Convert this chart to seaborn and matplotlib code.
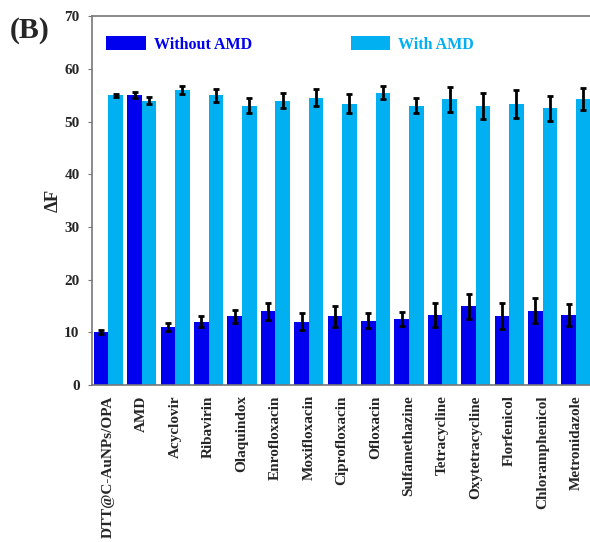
import matplotlib
matplotlib.use("Agg")
import matplotlib.pyplot as plt
import seaborn as sns
import pandas as pd

categories = ["DTT@C-AuNPs/OPA", "AMD", "Acyclovir", "Ribavirin", "Olaquindox",
              "Enrofloxacin", "Moxifloxacin", "Ciprofloxacin", "Ofloxacin",
              "Sulfamethazine", "Tetracycline", "Oxytetracycline", "Florfenicol",
              "Chloramphenicol", "Metronidazole"]
series_names = ["Without AMD", "With AMD"]
without_amd = [10.0, 55.0, 11.0, 12.0, 13.0, 14.0, 12.0, 13.0, 12.2, 12.5, 13.3, 14.9, 13.1, 14.1, 13.2]
without_err = [0.4, 0.55, 0.8, 1.0, 1.2, 1.6, 1.6, 2.0, 1.4, 1.4, 2.3, 2.4, 2.5, 2.3, 2.1]
with_amd = [55.0, 54.0, 56.0, 55.0, 53.0, 54.0, 54.5, 53.4, 55.5, 53.0, 54.2, 53.0, 53.3, 52.5, 54.3]
with_err = [0.3, 0.6, 0.7, 1.2, 1.4, 1.5, 1.6, 1.8, 1.3, 1.4, 2.3, 2.5, 2.6, 2.3, 2.1]
y_ticks = [0, 10, 20, 30, 40, 50, 60, 70]

colors = ["#0000EE", "#00B0F0"]

df = pd.DataFrame({
    "category": categories * 2,
    "series": [series_names[0]] * len(categories) + [series_names[1]] * len(categories),
    "value": without_amd + with_amd,
    "err": without_err + with_err,
})

sns.set_style("white")
plt.rcParams["font.family"] = ["Liberation Serif", "DejaVu Serif"]
plt.rcParams["font.weight"] = "bold"

fig = plt.figure(figsize=(5.9, 5.42), dpi=100)
ax = fig.add_axes([0.156, 0.290, 0.844, 0.680])

sns.barplot(data=df, x="category", y="value", hue="series", order=categories,
            hue_order=series_names, palette=colors, width=0.87, errorbar=None,
            saturation=1, linewidth=0, ax=ax)

# error bars at the centres of the drawn bars
for container, name in zip(ax.containers, series_names):
    sub = df[df["series"] == name].set_index("category").loc[categories]
    xs = [p.get_x() + p.get_width() / 2 for p in container.patches]
    ax.errorbar(xs, sub["value"].values, yerr=sub["err"].values, fmt="none",
                ecolor="black", elinewidth=2, capsize=2.5, capthick=2, zorder=5)

ax.set_xlim(-0.49, 14.42)
ax.set_ylim(0, 70)
ax.set_yticks(y_ticks)
ax.set_yticklabels([str(t) for t in y_ticks], fontsize=11, fontweight="bold")
ax.set_xticks(range(len(categories)))
ax.set_xticklabels(categories, rotation=90, fontsize=11, fontweight="bold")
ax.set_xlabel("")
ax.set_ylabel("ΔF", fontsize=13.5, fontweight="bold", labelpad=2)

for side in ["left", "top", "bottom"]:
    ax.spines[side].set_color("#777777")
    ax.spines[side].set_linewidth(1.2)
ax.spines["right"].set_visible(False)
ax.tick_params(axis="y", which="both", left=True, length=3, color="#777777", pad=6)
ax.tick_params(axis="x", bottom=False, pad=4)

leg = ax.legend(ncol=2, loc="upper left", bbox_to_anchor=(0.0, 0.985), frameon=False,
                handlelength=2.45, handleheight=1.0, handletextpad=0.5,
                columnspacing=6.2, prop={"family": "Liberation Serif", "weight": "bold", "size": 11.5})
for text, c in zip(leg.get_texts(), colors):
    text.set_color(c)

fig.text(0.017, 0.968, "(B)", fontsize=21.5, fontweight="bold", va="top", ha="left")

fig.savefig("out.png", dpi=100)
